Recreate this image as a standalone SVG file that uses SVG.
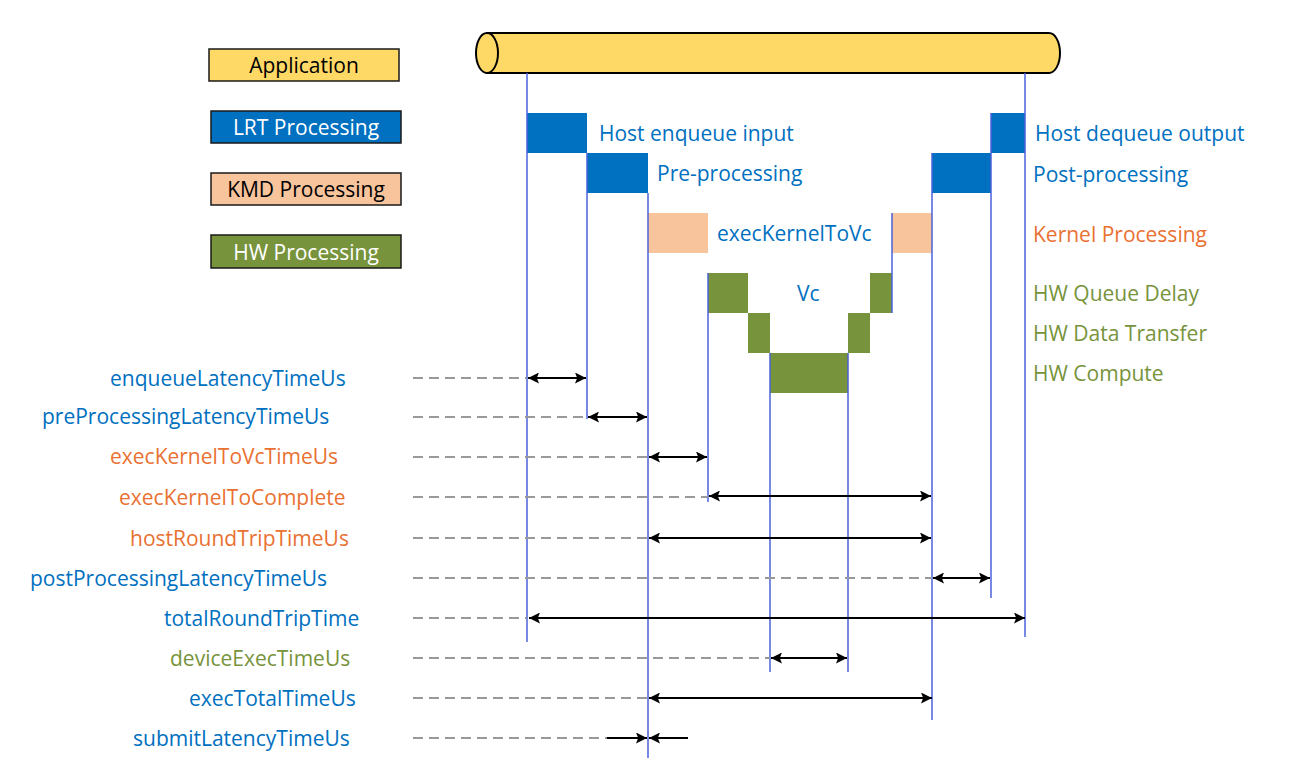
<svg xmlns="http://www.w3.org/2000/svg" width="1292" height="779" viewBox="0 0 1292 779">
<defs>
<marker id="ah" viewBox="0 0 10 10" refX="10" refY="5" markerWidth="11" markerHeight="11" markerUnits="userSpaceOnUse" orient="auto-start-reverse">
<path d="M0,0 L10,5 L0,10 L2,5 Z" fill="#000"/>
</marker>
<style>
text{font-family:"Open Sans","Liberation Sans",sans-serif;font-size:21px}
.blue{fill:#0070C0}
.orange{fill:#E97132}
.green{fill:#77933C}
.lrt{fill:#0070C0}
.kmd{fill:#F8C49C}
.hw{fill:#77933C}
.vl{stroke:#4A62D8;stroke-width:1.5;fill:none}
.dash{stroke:#999999;stroke-width:2;stroke-dasharray:10 6;fill:none}
.arr{stroke:#000;stroke-width:2;fill:none;marker-start:url(#ah);marker-end:url(#ah)}
.leg{stroke:#1a1a1a;stroke-width:1.5}
.lt{font-size:21px;text-anchor:middle}
</style>
</defs>
<rect width="1292" height="779" fill="#fff"/>

<g id="legend-application"><rect x="209" y="49" width="190" height="32" fill="#FFD966" class="leg"/><text x="304" y="73" class="lt" fill="#000">Application</text></g>
<g id="legend-lrt"><rect x="211" y="111" width="190" height="32" fill="#0070C0" class="leg"/><text x="306" y="135" class="lt" fill="#fff">LRT Processing</text></g>
<g id="legend-kmd"><rect x="211" y="173" width="190" height="32" fill="#F8C49C" class="leg"/><text x="306" y="197" class="lt" fill="#000">KMD Processing</text></g>
<g id="legend-hw"><rect x="211" y="235" width="190" height="33" fill="#77933C" class="leg"/><text x="306" y="260" class="lt" fill="#fff">HW Processing</text></g>

<g id="application">
<path d="M487,33 H1049 A11,20 0 0 1 1049,73 H487 Z" fill="#FFD966" stroke="#000" stroke-width="2"/>
<ellipse cx="487" cy="53" rx="11" ry="20" fill="#FFD966" stroke="#000" stroke-width="2"/>
</g>

<g id="blocks">
<rect x="527" y="113" width="60" height="40" class="lrt"/>
<rect x="587" y="153" width="61" height="40" class="lrt"/>
<rect x="648" y="213" width="60" height="40" class="kmd"/>
<rect x="708" y="273" width="40" height="40" class="hw"/>
<rect x="748" y="313" width="22" height="40" class="hw"/>
<rect x="770" y="353" width="78" height="40" class="hw"/>
<rect x="848" y="313" width="22" height="40" class="hw"/>
<rect x="870" y="273" width="22" height="40" class="hw"/>
<rect x="892" y="213" width="40" height="40" class="kmd"/>
<rect x="932" y="153" width="59" height="40" class="lrt"/>
<rect x="991" y="113" width="34" height="40" class="lrt"/>
</g>

<g id="timelines">
<line x1="527" y1="73" x2="527" y2="642" class="vl"/>
<line x1="587" y1="153" x2="587" y2="419" class="vl"/>
<line x1="648" y1="193" x2="648" y2="758" class="vl"/>
<line x1="708" y1="273" x2="708" y2="502" class="vl"/>
<line x1="770" y1="353" x2="770" y2="672" class="vl"/>
<line x1="848" y1="353" x2="848" y2="672" class="vl"/>
<line x1="892" y1="213" x2="892" y2="313" class="vl"/>
<line x1="932" y1="153" x2="932" y2="720" class="vl"/>
<line x1="991" y1="113" x2="991" y2="598" class="vl"/>
<line x1="1025" y1="73" x2="1025" y2="637" class="vl"/>
</g>

<g id="stage-labels">
<text x="599" y="141" class="blue">Host enqueue input</text>
<text x="657" y="181" class="blue">Pre-processing</text>
<text x="717" y="241" class="blue">execKernelToVc</text>
<text x="797" y="301" class="blue">Vc</text>
<text x="1035" y="141" class="blue">Host dequeue output</text>
<text x="1033" y="182" class="blue">Post-processing</text>
<text x="1033" y="242" class="orange">Kernel Processing</text>
<text x="1033" y="301" class="green">HW Queue Delay</text>
<text x="1033" y="341" class="green">HW Data Transfer</text>
<text x="1033" y="381" class="green">HW Compute</text>
</g>

<g id="metric-labels">
<text x="110" y="386" class="blue">enqueueLatencyTimeUs</text>
<text x="42" y="424" class="blue">preProcessingLatencyTimeUs</text>
<text x="110" y="464" class="orange">execKernelToVcTimeUs</text>
<text x="119" y="505" class="orange">execKernelToComplete</text>
<text x="130" y="546" class="orange">hostRoundTripTimeUs</text>
<text x="30" y="586" class="blue">postProcessingLatencyTimeUs</text>
<text x="164" y="626" class="blue">totalRoundTripTime</text>
<text x="170" y="666" class="green">deviceExecTimeUs</text>
<text x="189" y="706" class="blue">execTotalTimeUs</text>
<text x="133" y="746" class="blue">submitLatencyTimeUs</text>
</g>

<g id="connectors">
<line x1="413" y1="378" x2="527" y2="378" class="dash"/>
<line x1="528" y1="378" x2="586" y2="378" class="arr"/>
<line x1="413" y1="417" x2="587" y2="417" class="dash"/>
<line x1="588" y1="417" x2="647" y2="417" class="arr"/>
<line x1="413" y1="457" x2="648" y2="457" class="dash"/>
<line x1="649" y1="457" x2="707" y2="457" class="arr"/>
<line x1="413" y1="497" x2="708" y2="497" class="dash"/>
<line x1="709" y1="496" x2="931" y2="496" class="arr"/>
<line x1="413" y1="538" x2="648" y2="538" class="dash"/>
<line x1="649" y1="538" x2="931" y2="538" class="arr"/>
<line x1="413" y1="578" x2="932" y2="578" class="dash"/>
<line x1="933" y1="578" x2="990" y2="578" class="arr"/>
<line x1="413" y1="618" x2="527" y2="618" class="dash"/>
<line x1="529" y1="618" x2="1025" y2="618" class="arr"/>
<line x1="413" y1="658" x2="770" y2="658" class="dash"/>
<line x1="771" y1="658" x2="847" y2="658" class="arr"/>
<line x1="413" y1="698" x2="648" y2="698" class="dash"/>
<line x1="649" y1="698" x2="932" y2="698" class="arr"/>
<line x1="413" y1="738" x2="607" y2="738" class="dash"/>
<line x1="607" y1="738" x2="647" y2="738" stroke="#000" stroke-width="2" marker-end="url(#ah)"/>
<line x1="688" y1="738" x2="649" y2="738" stroke="#000" stroke-width="2" marker-end="url(#ah)"/>
</g>
</svg>
